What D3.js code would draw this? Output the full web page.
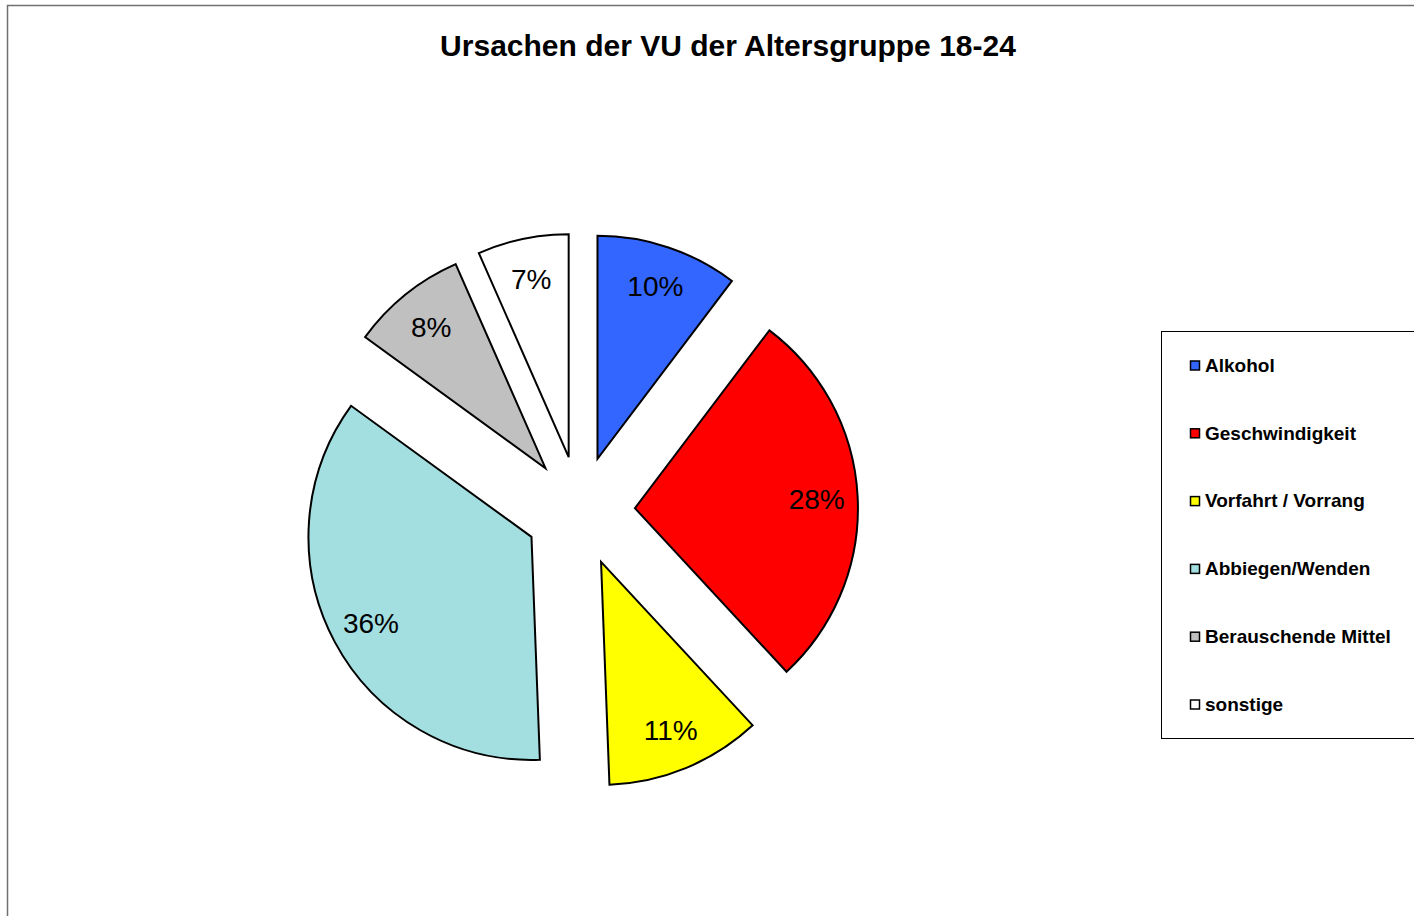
<!DOCTYPE html>
<html>
<head>
<meta charset="utf-8">
<script src="https://cdn.jsdelivr.net/npm/d3@7"></script>
<style>
  html, body { margin: 0; padding: 0; background: #fff; }
  svg { display: block; font-family: "Liberation Sans", Arial, sans-serif; }
</style>
</head>
<body>
<div id="chart"></div>
<script>
const width = 1414;
const height = 916;

// --- data (shares in percent) ---
const categories = ["Alkohol", "Geschwindigkeit", "Vorfahrt / Vorrang", "Abbiegen/Wenden", "Berauschende Mittel", "sonstige"];
const values = [10.3, 27.8, 11.3, 35.6, 8.4, 6.6];
const colors = ["#3366FF", "#FF0000", "#FFFF00", "#A3DFE0", "#C0C0C0", "#FFFFFF"];

const cx = 580, cy = 511;
const radius = 223;
const explode = 55;
const labelRadius = 182;

const svg = d3.select("#chart")
    .append("svg")
    .attr("width", width)
    .attr("height", height);

// chart area border (runs off the right and bottom edge)
svg.append("rect")
    .attr("x", 7.5)
    .attr("y", 5.5)
    .attr("width", width + 50)
    .attr("height", height + 50)
    .attr("fill", "#fff")
    .attr("stroke", "#707070")
    .attr("stroke-width", 1.5);

svg.append("text")
    .attr("x", 728)
    .attr("y", 56)
    .attr("text-anchor", "middle")
    .style("font-size", "30px")
    .style("font-weight", "bold")
    .text("Ursachen der VU der Altersgruppe 18-24");

const total = d3.sum(values);
const pie = d3.pie().sort(null).value(d => d.value);
const arcs = pie(categories.map((c, i) => ({ name: c, value: values[i], color: colors[i] })));

const arc = d3.arc().innerRadius(0).outerRadius(radius);
const labelArc = d3.arc().innerRadius(labelRadius).outerRadius(labelRadius);

const g = svg.append("g").attr("transform", `translate(${cx},${cy})`);

const slice = g.selectAll(".slice")
    .data(arcs)
    .enter()
    .append("g")
    .attr("class", "slice")
    .attr("transform", d => {
        const a = (d.startAngle + d.endAngle) / 2;
        return `translate(${explode * Math.sin(a)},${-explode * Math.cos(a)})`;
    });

slice.append("path")
    .attr("d", arc)
    .attr("fill", d => d.data.color)
    .attr("stroke", "#000")
    .attr("stroke-width", 2)
    .attr("stroke-linejoin", "miter");

slice.append("text")
    .attr("transform", d => `translate(${labelArc.centroid(d)})`)
    .attr("text-anchor", "middle")
    .attr("dy", "0.36em")
    .style("font-size", "28px")
    .text(d => Math.round(d.data.value / total * 100) + "%");

// --- legend ---
const legend = svg.append("g");

legend.append("rect")
    .attr("x", 1161.5)
    .attr("y", 331.5)
    .attr("width", 300)
    .attr("height", 407)
    .attr("fill", "#fff")
    .attr("stroke", "#000")
    .attr("stroke-width", 1);

const item = legend.selectAll(".item")
    .data(categories)
    .enter()
    .append("g")
    .attr("class", "item")
    .attr("transform", (d, i) => `translate(1190,${365 + i * 67.8})`);

item.append("rect")
    .attr("x", 0.5)
    .attr("y", -4)
    .attr("width", 9)
    .attr("height", 9)
    .attr("fill", (d, i) => colors[i])
    .attr("stroke", "#000")
    .attr("stroke-width", 1.5);

item.append("text")
    .attr("x", 15)
    .attr("dy", "0.36em")
    .style("font-size", "19px")
    .style("font-weight", "bold")
    .text(d => d);
</script>
</body>
</html>
